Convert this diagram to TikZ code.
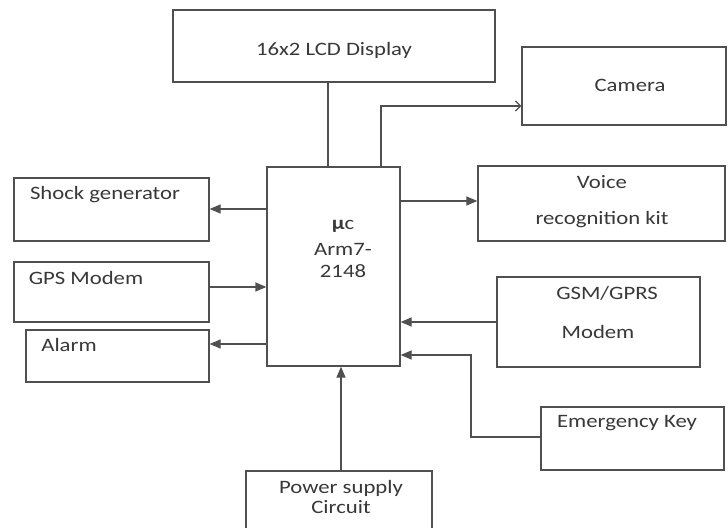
\documentclass[tikz,border=0pt]{standalone}
\usepackage{fontspec}
\setmainfont{Carlito}[FakeStretch=1.2]
\usetikzlibrary{arrows.meta}
\definecolor{ln}{HTML}{505050}
\definecolor{tx}{HTML}{383838}
\tikzset{
  box/.style={draw=ln, line width=1.3bp, minimum width=#1, inner sep=0pt},
  lbl/.style={text=tx, font=\fontsize{19}{22}\selectfont, inner sep=0pt, anchor=center},
  arr/.style={draw=ln, line width=1.3bp, -{Triangle[length=11bp,width=9bp]}},
  oarr/.style={draw=ln, line width=1.3bp, -{Straight Barb[length=5bp,width=10bp]}},
  conn/.style={draw=ln, line width=1.3bp}
}
\begin{document}
\begin{tikzpicture}[x=1bp,y=-1bp]
\clip (0,0) rectangle (728,528);
\fill[white] (0,0) rectangle (728,528);
% boxes
\node[box=322bp, minimum height=72bp] (lcd) at (334,46) {};
\node[box=204bp, minimum height=78bp] (cam) at (624,86) {};
\node[box=133bp, minimum height=199bp] (mcu) at (333.5,266.5) {};
\node[box=247bp, minimum height=75bp] (voice) at (601.5,203.5) {};
\node[box=203bp, minimum height=90bp] (gsm) at (598.5,322) {};
\node[box=183bp, minimum height=63bp] (emk) at (632.5,438.5) {};
\node[box=186bp, minimum height=70bp] (psu) at (339,506) {};
\node[box=195bp, minimum height=63bp] (shock) at (111.5,209.5) {};
\node[box=195bp, minimum height=60bp] (gps) at (111.5,292) {};
\node[box=183bp, minimum height=52bp] (alarm) at (117.5,356) {};
% labels
\node[lbl] (tlcd) at (334,50) {16x2 LCD Display};
\node[lbl] (tcam) at (630,85) {Camera};
\node[lbl] (tmu) at (343,226) {\textbf{µ}c};
\node[lbl] (tarm) at (343,249) {Arm7-};
\node[lbl] (tnum) at (343,271) {2148};
\node[lbl] (tv1) at (602,182) {Voice};
\node[lbl] (tv2) at (602,220) {recognition kit};
\node[lbl] (tg1) at (607,293) {GSM/GPRS};
\node[lbl] (tg2) at (598,332) {Modem};
\node[lbl] (tem) at (627,423) {Emergency Key};
\node[lbl] (tp1) at (341,488) {Power supply};
\node[lbl] (tp2) at (341,507) {Circuit};
\node[lbl] (tsh) at (105,195) {Shock generator};
\node[lbl] (tgps) at (86,278) {GPS Modem};
\node[lbl] (tal) at (69,345) {Alarm};
% helper coordinates
\coordinate (xl) at (328,0);
\coordinate (cb) at (381,106);
\coordinate (ysh) at (0,209);
\coordinate (yv) at (0,201);
\coordinate (ygps) at (0,287);
\coordinate (yal) at (0,344);
\coordinate (ye) at (0,437);
\coordinate (eb) at (471,355);
\coordinate (xp) at (341,0);
% connectors
\draw[conn] (xl |- lcd.south) -- (xl |- mcu.north);
\draw[oarr] (cb |- mcu.north) |- (cam.west |- cb);
\draw[arr] (mcu.west |- ysh) -- (shock.east |- ysh);
\draw[arr] (gps.east |- ygps) -- (mcu.west |- ygps);
\draw[arr] (mcu.west |- yal) -- (alarm.east |- yal);
\draw[arr] (mcu.east |- yv) -- (voice.west |- yv);
\draw[arr] (gsm.west) -- (mcu.east |- gsm.west);
\draw[arr] (emk.west |- ye) -| (eb) -- (mcu.east |- eb);
\draw[arr] (xp |- psu.north) -- (xp |- mcu.south);
\end{tikzpicture}
\end{document}
